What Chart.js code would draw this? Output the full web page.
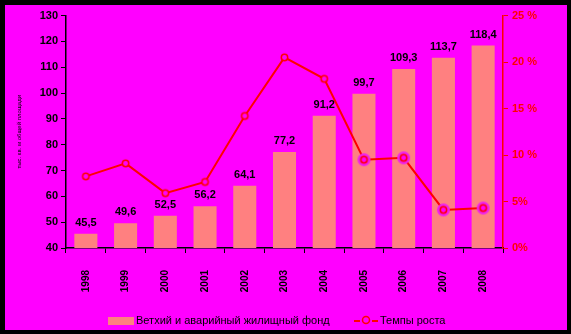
<!DOCTYPE html>
<html>
<head>
<meta charset="utf-8">
<script src="https://cdn.jsdelivr.net/npm/chart.js@4/dist/chart.umd.min.js"></script>
<style>
  html, body { margin: 0; padding: 0; background: #000; }
  #wrap {
    position: absolute; left: 5px; top: 5px;
    width: 562px; height: 325px; background: #ff00ff;
  }
</style>
</head>
<body>
<div id="wrap"><canvas id="chart"></canvas></div>
<script>
const years = ['1998', '1999', '2000', '2001', '2002', '2003', '2004', '2005', '2006', '2007', '2008']
const fund = [45.5, 49.6, 52.5, 56.2, 64.1, 77.2, 91.2, 99.7, 109.3, 113.7, 118.4]
const growth = [7.7, 9.1, 5.9, 7.1, 14.2, 20.5, 18.2, 9.5, 9.7, 4.1, 4.3]
const fundLabel = 'Ветхий и аварийный жилищный фонд'
const growthLabel = 'Темпы роста'

const FONT = '"Liberation Sans", Arial, sans-serif'
const BAR = '#ff8080'
const RED = '#ff0000'
const MAG = '#ff00ff'

// small red ring, optionally sitting on a magenta disc
function marker(halo) {
  const c = document.createElement('canvas')
  c.width = 15
  c.height = 15
  const ctx = c.getContext('2d')
  if (halo) {
    ctx.fillStyle = '#f020f0'
    ctx.beginPath()
    ctx.arc(7.5, 7.5, 6.5, 0, Math.PI * 2)
    ctx.fill()
  }
  ctx.fillStyle = MAG
  ctx.strokeStyle = RED
  ctx.lineWidth = 1.5
  ctx.beginPath()
  ctx.arc(7.5, 7.5, 3.2, 0, Math.PI * 2)
  ctx.fill()
  ctx.stroke()
  return c
}
const ring = marker(false)
const haloRing = marker(true)

// numbers over the bars
const barValues = {
  id: 'barValues',
  afterDatasetsDraw(chart) {
    const ctx = chart.ctx
    const meta = chart.getDatasetMeta(0)
    ctx.save()
    ctx.font = 'bold 11px ' + FONT
    ctx.fillStyle = '#000'
    ctx.textAlign = 'center'
    ctx.textBaseline = 'alphabetic'
    meta.data.forEach((bar, i) => {
      ctx.fillText(String(fund[i]).replace('.', ','), bar.x, bar.y - 8)
    })
    ctx.restore()
  },
}

// legend at the bottom, drawn like the original
const bottomLegend = {
  id: 'bottomLegend',
  afterDraw(chart) {
    const ctx = chart.ctx
    const y = 316
    ctx.save()
    ctx.font = '11px ' + FONT
    ctx.textBaseline = 'middle'
    ctx.fillStyle = BAR
    ctx.fillRect(103, y - 4, 26, 8)
    ctx.fillStyle = '#000'
    ctx.fillText(fundLabel, 131, y)

    ctx.strokeStyle = RED
    ctx.lineWidth = 2
    ctx.beginPath()
    ctx.moveTo(349, y); ctx.lineTo(355, y)
    ctx.moveTo(367, y); ctx.lineTo(373, y)
    ctx.stroke()
    ctx.lineWidth = 1.5
    ctx.beginPath()
    ctx.arc(361, y - 1, 3.5, 0, Math.PI * 2)
    ctx.stroke()
    ctx.fillStyle = '#000'
    ctx.fillText(growthLabel, 375, y)
    ctx.restore()
  },
}

new Chart(document.getElementById('chart'), {
  data: {
    labels: years,
    datasets: [
      {
        type: 'bar',
        label: fundLabel,
        data: fund,
        backgroundColor: BAR,
        barPercentage: 0.58,
        categoryPercentage: 1,
        yAxisID: 'y',
        order: 2,
      },
      {
        type: 'line',
        label: growthLabel,
        data: growth,
        borderColor: RED,
        borderWidth: 2,
        pointStyle: years.map((y, i) => (i >= 7 ? haloRing : ring)),
        pointRadius: 4,
        tension: 0,
        yAxisID: 'y1',
        order: 1,
      },
    ],
  },
  options: {
    responsive: true,
    maintainAspectRatio: false,
    animation: false,
    layout: { padding: { top: 10, left: 0, right: 0, bottom: 0 } },
    plugins: {
      legend: { display: false },
      tooltip: { enabled: false },
    },
    scales: {
      x: {
        grid: { offset: true, drawOnChartArea: false, tickLength: 5, color: '#000' },
        border: { color: '#000', width: 1.5 },
        ticks: {
          color: '#000',
          font: { family: FONT, size: 10, weight: 'bold' },
          minRotation: 90,
          maxRotation: 90,
          padding: 17,
        },
        afterFit(scale) { scale.height = 82 },
      },
      y: {
        position: 'left',
        min: 40,
        max: 130,
        ticks: {
          stepSize: 10,
          color: '#000',
          font: { family: FONT, size: 11, weight: 'bold' },
          padding: 3,
        },
        grid: { drawOnChartArea: false, tickLength: 5, color: '#000' },
        border: { color: '#000', width: 1.5 },
        title: {
          display: true,
          text: 'тыс. кв. м общей площади',
          color: '#000',
          font: { family: FONT, size: 6 },
          padding: { top: 11, bottom: 0 },
        },
        afterFit(scale) { scale.width = 61 },
      },
      y1: {
        position: 'right',
        min: 0,
        max: 25,
        ticks: {
          stepSize: 5,
          color: RED,
          font: { family: FONT, size: 11, weight: 'bold' },
          padding: 4,
          callback: (v) => (v >= 10 ? v + ' %' : v + '%'),
        },
        grid: { drawOnChartArea: false, tickLength: 5, color: RED },
        border: { color: RED, width: 1.5 },
        afterFit(scale) { scale.width = 64 },
      },
    },
  },
  plugins: [barValues, bottomLegend],
})
</script>
</body>
</html>
